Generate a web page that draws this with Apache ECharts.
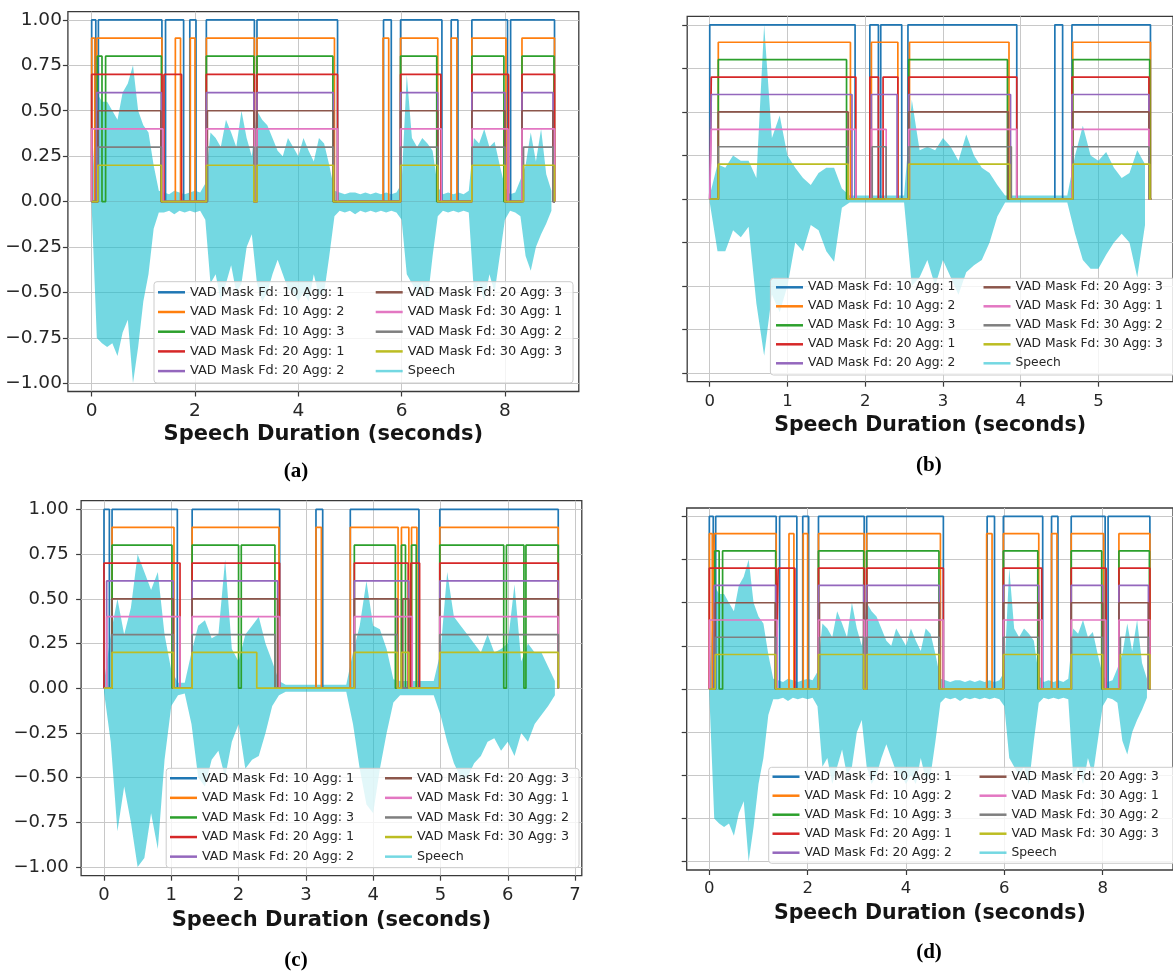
<!DOCTYPE html>
<html>
<head>
<meta charset="utf-8">
<script src="https://cdn.jsdelivr.net/npm/echarts@6/dist/echarts.min.js"></script>
<style>
html,body{margin:0;padding:0;background:#fff;}
#main{width:1173px;height:974px;}
</style>
</head>
<body>
<div id="main"></div>
<script>
// ---- series names / colours (matplotlib tab10) ----
var maskNames=['VAD Mask Fd: 10 Agg: 1','VAD Mask Fd: 10 Agg: 2','VAD Mask Fd: 10 Agg: 3',
	'VAD Mask Fd: 20 Agg: 1','VAD Mask Fd: 20 Agg: 2','VAD Mask Fd: 20 Agg: 3',
	'VAD Mask Fd: 30 Agg: 1','VAD Mask Fd: 30 Agg: 2','VAD Mask Fd: 30 Agg: 3'];
var maskColors=['#1f77b4','#ff7f0e','#2ca02c','#d62728','#9467bd','#8c564b','#e377c2','#7f7f7f','#bcbd22'];
var maskLevels=[1,0.9,0.8,0.7,0.6,0.5,0.4,0.3,0.2];
var speechName='Speech', speechColor='#17becf';

// ---- tick values ----
var yTicks=[-1,-0.75,-0.5,-0.25,0,0.25,0.5,0.75,1];
var xTicksA=[0,2,4,6,8];
var xTicksB=[0,1,2,3,4,5];
var xTicksC=[0,1,2,3,4,5,6,7];
var xTicksD=[0,2,4,6,8];

// ---- VAD masks: speech intervals [start,end] (s) per mask ----
var durationA=8.97;
var masksA=[
	[[0,0.08],[0.13,1.36],[1.43,1.78],[1.9,2.02],[2.22,3.15],[3.2,4.76],[5.65,5.8],[5.98,6.78],[6.96,7.09],[7.36,8.05],[8.11,8.96]],
	[[0,0.06],[0.1,1.36],[1.62,1.72],[1.91,2.0],[2.22,3.15],[3.2,4.7],[5.64,5.75],[5.98,6.7],[6.96,7.07],[7.36,8.02],[8.33,8.96]],
	[[0.11,0.2],[0.27,1.35],[2.22,3.14],[3.2,4.67],[5.98,6.68],[7.36,7.98],[8.33,8.95]],
	[[0,1.36],[1.4,1.74],[2.22,3.15],[3.2,4.76],[5.98,6.76],[7.36,8.07],[8.33,8.96]],
	[[0.1,1.35],[2.22,3.14],[3.2,4.68],[5.98,6.7],[7.36,8.0],[8.33,8.93]],
	[[0.12,1.34],[2.24,3.14],[3.2,4.68],[5.98,6.7],[7.36,8.0],[8.33,8.93]],
	[[0,1.38],[2.22,3.15],[3.2,4.76],[5.98,6.77],[7.36,8.06],[8.33,8.96]],
	[[0.12,1.35],[2.24,3.14],[3.2,4.68],[5.98,6.7],[7.36,8.0],[8.36,8.93]],
	[[0.12,1.35],[2.22,3.14],[3.2,4.68],[5.98,6.7],[7.36,8.0],[8.36,8.96]]
];
var durationB=5.68;
var masksB=[
	[[0,1.87],[2.06,2.17],[2.2,2.47],[2.55,3.95],[4.44,4.54],[4.66,5.67]],
	[[0.11,1.81],[2.08,2.42],[2.57,3.85],[4.67,5.67]],
	[[0.11,1.76],[2.56,3.83],[4.67,5.66]],
	[[0.02,1.88],[2.06,2.17],[2.23,2.42],[2.56,3.95],[4.66,5.65]],
	[[0.02,1.83],[2.08,2.41],[2.56,3.87],[4.66,5.65]],
	[[0.11,1.78],[2.56,3.84],[4.67,5.65]],
	[[0.02,1.88],[2.08,2.27],[2.56,3.95],[4.66,5.65]],
	[[0.11,1.78],[2.09,2.27],[2.56,3.88],[4.67,5.65]],
	[[0.11,1.78],[2.56,3.86],[4.67,5.66]]
];
var durationC=6.76;
var masksC=[
	[[0,0.08],[0.12,1.09],[1.31,2.61],[3.15,3.25],[3.66,4.68],[4.99,6.75]],
	[[0.12,1.04],[1.31,2.6],[3.15,3.23],[3.66,4.37],[4.42,4.53],[4.57,4.65],[4.99,6.75]],
	[[0.12,1.01],[1.31,2.0],[2.04,2.54],[3.72,4.33],[4.42,4.48],[4.57,4.64],[4.99,5.94],[5.98,6.24],[6.27,6.75]],
	[[0,1.13],[1.31,2.61],[3.72,4.52],[4.56,4.69],[4.99,6.75]],
	[[0.04,1.03],[1.31,2.58],[3.72,4.53],[4.99,6.75]],
	[[0.12,1.03],[1.31,2.58],[3.72,4.36],[4.44,4.53],[4.99,6.75]],
	[[0.04,1.13],[1.31,2.61],[3.72,4.58],[4.99,6.75]],
	[[0.12,1.03],[1.31,2.54],[3.72,4.36],[4.99,6.75]],
	[[0.12,1.03],[1.31,2.27],[3.72,4.36],[4.42,4.53],[4.99,6.75]]
];
// (d) is the same utterance as (a)
var durationD=durationA;
var masksD=masksA;

// ---- speech waveform envelope (upper / lower peak), one value every 0.1 s ----
var speechStep=0.1;
var speechTopA=[0.05,0.6,0.55,0.55,0.5,0.45,0.6,0.65,0.75,0.5,
	0.42,0.38,0.2,0.06,0.05,0.04,0.06,0.05,0.04,0.05,
	0.06,0.05,0.1,0.38,0.35,0.3,0.45,0.38,0.3,0.5,
	0.35,0.25,0.5,0.45,0.42,0.35,0.28,0.25,0.35,0.3,
	0.25,0.35,0.28,0.22,0.35,0.32,0.2,0.06,0.05,0.04,
	0.05,0.05,0.04,0.05,0.04,0.05,0.04,0.05,0.04,0.05,
	0.1,0.7,0.35,0.3,0.35,0.32,0.28,0.08,0.04,0.05,
	0.04,0.05,0.04,0.06,0.35,0.32,0.4,0.3,0.33,0.2,
	0.08,0.04,0.05,0.12,0.2,0.38,0.22,0.4,0.15,0.06];
var speechBotA=[-0.03,-0.75,-0.78,-0.8,-0.78,-0.85,-0.72,-0.65,-1.0,-0.8,
	-0.55,-0.4,-0.15,-0.06,-0.06,-0.05,-0.07,-0.05,-0.06,-0.05,
	-0.06,-0.05,-0.1,-0.45,-0.4,-0.55,-0.45,-0.35,-0.5,-0.45,
	-0.25,-0.18,-0.45,-0.55,-0.5,-0.4,-0.32,-0.4,-0.48,-0.5,
	-0.55,-0.5,-0.55,-0.4,-0.52,-0.5,-0.3,-0.08,-0.05,-0.06,
	-0.05,-0.07,-0.05,-0.06,-0.05,-0.06,-0.05,-0.06,-0.05,-0.06,
	-0.1,-0.4,-0.45,-0.5,-0.45,-0.55,-0.3,-0.08,-0.05,-0.06,
	-0.05,-0.06,-0.05,-0.06,-0.5,-0.45,-0.55,-0.4,-0.5,-0.3,
	-0.1,-0.05,-0.06,-0.08,-0.3,-0.38,-0.25,-0.18,-0.12,-0.05];
var speechTopB=[0.02,0.2,0.18,0.25,0.22,0.22,0.12,1.0,0.35,0.48,
	0.25,0.18,0.12,0.08,0.15,0.18,0.18,0.06,0.02,0.02,
	0.02,0.02,0.02,0.02,0.02,0.02,0.57,0.28,0.3,0.28,
	0.35,0.3,0.22,0.37,0.25,0.18,0.15,0.08,0.02,0.02,
	0.02,0.02,0.02,0.02,0.02,0.02,0.02,0.25,0.42,0.25,
	0.22,0.27,0.18,0.12,0.15,0.28,0.2];
var speechBotB=[-0.02,-0.3,-0.3,-0.18,-0.22,-0.16,-0.6,-0.9,-0.55,-0.65,
	-0.5,-0.25,-0.3,-0.15,-0.18,-0.3,-0.36,-0.05,-0.02,-0.02,
	-0.02,-0.02,-0.02,-0.02,-0.02,-0.02,-0.5,-0.45,-0.35,-0.5,
	-0.35,-0.45,-0.55,-0.42,-0.38,-0.35,-0.25,-0.1,-0.02,-0.02,
	-0.02,-0.02,-0.02,-0.02,-0.02,-0.02,-0.02,-0.2,-0.35,-0.4,
	-0.4,-0.32,-0.25,-0.2,-0.25,-0.45,-0.15];
var speechTopC=[0.03,0.3,0.5,0.3,0.45,0.75,0.65,0.55,0.65,0.3,
	0.1,0.03,0.03,0.2,0.35,0.38,0.28,0.3,0.72,0.22,
	0.15,0.3,0.35,0.4,0.25,0.15,0.04,0.02,0.02,0.02,
	0.02,0.02,0.02,0.02,0.02,0.02,0.02,0.2,0.35,0.6,
	0.35,0.33,0.22,0.05,0.04,0.04,0.04,0.04,0.04,0.04,
	0.2,0.65,0.4,0.35,0.3,0.25,0.2,0.3,0.2,0.22,
	0.25,0.58,0.15,0.25,0.2,0.2,0.12,0.04];
var speechBotC=[-0.02,-0.3,-0.8,-0.55,-0.75,-1.0,-0.95,-0.7,-0.9,-0.4,
	-0.1,-0.04,-0.03,-0.2,-0.5,-0.55,-0.4,-0.35,-0.5,-0.3,
	-0.2,-0.45,-0.4,-0.38,-0.25,-0.1,-0.04,-0.02,-0.02,-0.02,
	-0.02,-0.02,-0.02,-0.02,-0.02,-0.02,-0.02,-0.2,-0.45,-0.65,
	-0.7,-0.45,-0.25,-0.08,-0.04,-0.04,-0.04,-0.04,-0.04,-0.04,
	-0.15,-0.3,-0.42,-0.5,-0.5,-0.42,-0.38,-0.3,-0.28,-0.35,
	-0.3,-0.38,-0.25,-0.3,-0.2,-0.15,-0.1,-0.04];
var speechTopD=speechTopA;
var speechBotD=speechBotA;

// ---- panel layout (pixels) ----
var panels=[
	{id:'a',masks:masksA,dur:durationA,top_:speechTopA,bot_:speechBotA,xticks:xTicksA,
	 grid:{left:67.9,top:11.7,width:510.9,height:379.8},xmin:-0.46,xmax:9.43,ylim:1.045,
	 yLabels:true,tickFont:18.5,xMargin:10,yMargin:6,nameGap:33,nameFont:21,
	 leg:{left:158,top:285.3,textW:180,gap:5.7,lh:14,font:12.9},frame:[154,281.7,419,101.3],cap:[296,471.7]},
	{id:'b',masks:masksB,dur:durationB,top_:speechTopB,bot_:speechBotB,xticks:xTicksB,
	 grid:{left:687.2,top:16.3,width:491.3,height:365.4},xmin:-0.29,xmax:5.96,ylim:1.049,
	 yLabels:false,tickFont:16.5,xMargin:12,yMargin:6,nameGap:33,nameFont:20.5,
	 leg:{left:776,top:280.8,textW:169.5,gap:6,lh:13,font:12.3},frame:[770.4,278.3,420,96.7],cap:[928.8,465.8]},
	{id:'c',masks:masksC,dur:durationC,top_:speechTopC,bot_:speechBotC,xticks:xTicksC,
	 grid:{left:81.1,top:500.7,width:500.7,height:375},xmin:-0.34,xmax:7.1,ylim:1.049,
	 yLabels:true,tickFont:18,xMargin:11,yMargin:12.5,nameGap:34,nameFont:21,
	 leg:{left:170,top:771.5,textW:176.9,gap:6.1,lh:13.5,font:12.7},frame:[166.2,768.3,412.8,99.4],cap:[296,960.8]},
	{id:'d',masks:masksD,dur:durationD,top_:speechTopD,bot_:speechBotD,xticks:xTicksD,
	 grid:{left:686.7,top:508,width:486.7,height:362},xmin:-0.46,xmax:9.43,ylim:1.049,
	 yLabels:false,tickFont:16.5,xMargin:10.5,yMargin:6,nameGap:33,nameFont:20.5,
	 leg:{left:772.5,top:770.2,textW:169,gap:6,lh:13,font:12.3},frame:[768.7,767.3,410,96],cap:[929,952.5]}
];

var axisColor='#3a3a3a', textColor='#262626';

function maskLine(iv,level,dur){
	var pts=[[0,0]];
	for(var i=0;i<iv.length;i++){
		pts.push([iv[i][0],0],[iv[i][0],level],[iv[i][1],level],[iv[i][1],0]);
	}
	pts.push([dur,0]);
	return pts;
}
function envelope(vals){
	var pts=[];
	for(var i=0;i<vals.length;i++) pts.push([i*speechStep,vals[i]]);
	return pts;
}
function yFmt(v){
	return (v<0?'\u2212':'')+Math.abs(v).toFixed(2);
}

// legend order: matplotlib fills column by column
var legendOrder=[maskNames[0],maskNames[5],maskNames[1],maskNames[6],maskNames[2],maskNames[7],maskNames[3],maskNames[8],maskNames[4],speechName];

var option={animation:false,grid:[],xAxis:[],yAxis:[],series:[],legend:[],graphic:[]};

panels.forEach(function(p,k){
	option.grid.push({left:p.grid.left,top:p.grid.top,width:p.grid.width,height:p.grid.height,
		show:true,borderColor:axisColor,borderWidth:1.3,backgroundColor:'transparent'});
	option.xAxis.push({type:'value',gridIndex:k,min:p.xmin,max:p.xmax,
		axisLine:{show:false,onZero:false},
		axisTick:{show:true,length:5,customValues:p.xticks,lineStyle:{color:axisColor,width:1.2}},
		axisLabel:{customValues:p.xticks,margin:p.xMargin,fontSize:p.tickFont,color:textColor,fontFamily:'DejaVu Sans'},
		splitLine:{show:true,lineStyle:{color:'#c8c8c8',width:1}},
		name:'Speech Duration (seconds)',nameLocation:'middle',nameGap:p.nameGap,
		nameTextStyle:{fontSize:p.nameFont,fontWeight:'bold',color:'#151515',fontFamily:'DejaVu Sans'}});
	option.yAxis.push({type:'value',gridIndex:k,min:-p.ylim,max:p.ylim,
		axisLine:{show:false,onZero:false},
		axisTick:{show:true,length:5,customValues:yTicks,lineStyle:{color:axisColor,width:1.2}},
		axisLabel:{show:p.yLabels,customValues:yTicks,formatter:yFmt,margin:p.yMargin,fontSize:p.tickFont,color:textColor,fontFamily:'DejaVu Sans'},
		splitLine:{show:true,lineStyle:{color:'#c8c8c8',width:1}}});

	for(var m=0;m<9;m++){
		option.series.push({type:'line',name:maskNames[m],xAxisIndex:k,yAxisIndex:k,
			data:maskLine(p.masks[m],maskLevels[m],p.dur),showSymbol:false,symbol:'none',
			color:maskColors[m],itemStyle:{color:maskColors[m]},
			lineStyle:{color:maskColors[m],width:1.7},z:2});
	}
	// speech: upper and lower peak envelopes, each filled to the zero line
	[p.top_,p.bot_].forEach(function(env){
		option.series.push({type:'line',name:speechName,xAxisIndex:k,yAxisIndex:k,
			data:envelope(env),showSymbol:false,symbol:'none',sampling:'none',
			color:speechColor,itemStyle:{color:speechColor,opacity:0.6},
			lineStyle:{color:speechColor,width:0,opacity:0},
			areaStyle:{color:speechColor,opacity:0.6,origin:'auto'},z:2});
	});

	option.legend.push({left:p.leg.left,top:p.leg.top,width:440,orient:'horizontal',padding:0,
		itemWidth:27,itemHeight:2.5,itemGap:p.leg.gap,icon:'rect',selectedMode:false,z:5,
		textStyle:{fontSize:p.leg.font,width:p.leg.textW,lineHeight:p.leg.lh,color:textColor,fontFamily:'DejaVu Sans'},
		data:legendOrder});

	option.graphic.push({type:'rect',z:3,
		shape:{x:p.frame[0],y:p.frame[1],width:p.frame[2],height:p.frame[3],r:3},
		style:{fill:'rgba(255,255,255,0.8)',stroke:'#cccccc',lineWidth:1}});
	option.graphic.push({type:'text',z:3,x:p.cap[0],y:p.cap[1],
		style:{text:'('+p.id+')',fontSize:21,fontWeight:'bold',fontFamily:'Liberation Serif',fill:'#000',align:'center',verticalAlign:'middle'}});
});

var chart=echarts.init(document.getElementById('main'),null,{renderer:'canvas'});
chart.setOption(option);
</script>
</body>
</html>
